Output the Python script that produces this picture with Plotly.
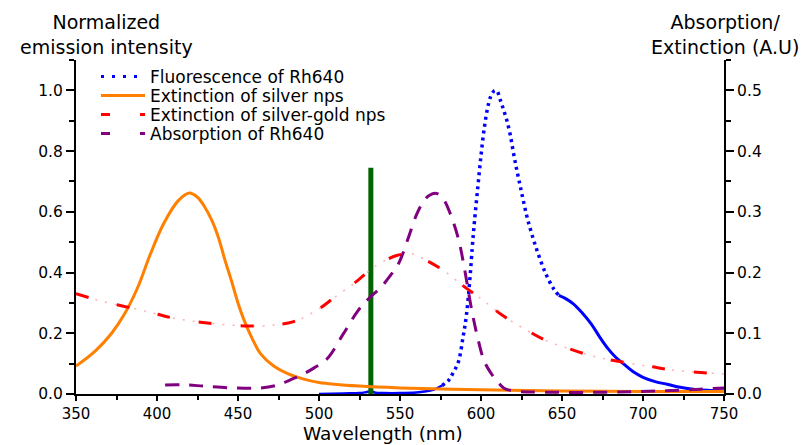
import plotly.graph_objects as go

# Fluorescence of Rh640 (normalized, left axis)
fl_nm = [500, 515, 525, 529, 532, 535, 540, 550, 560, 565, 571, 576,
         580, 583, 586, 589, 591, 593, 595, 596, 598, 600, 602, 604, 606,
         608, 609, 610, 612, 614, 616, 618, 620, 622, 624, 626, 629, 634, 640, 645, 648,
         652, 657, 662, 668, 673, 678, 683, 688, 694, 700, 708, 715, 723, 731, 740, 750]
fl_val = [0.0, 0.002, 0.003, 0.006, 0.009, 0.004, 0.003, 0.003, 0.005, 0.008, 0.015, 0.028,
          0.045, 0.072, 0.105, 0.19, 0.26, 0.37, 0.51, 0.57, 0.68, 0.785, 0.875, 0.94, 0.98,
          0.998, 1.0, 0.997, 0.967, 0.935, 0.9, 0.855, 0.795, 0.74, 0.69, 0.64, 0.571, 0.482, 0.396,
          0.345, 0.325, 0.315, 0.297, 0.27, 0.231, 0.19, 0.152, 0.122, 0.099, 0.073, 0.055, 0.04,
          0.032, 0.022, 0.016, 0.012, 0.01]

# Extinction of silver nps (right axis)
ag_nm = [350, 362, 372, 380, 388, 396, 404, 413, 420, 425, 429, 434, 438, 442, 446, 450,
         454, 459, 464, 472, 481, 490, 500, 525, 550, 600, 650, 700, 750]
ag_val = [0.046, 0.071, 0.1, 0.132, 0.175, 0.231, 0.28, 0.318, 0.331, 0.324, 0.31, 0.285,
          0.257, 0.22, 0.186, 0.15, 0.12, 0.09, 0.066, 0.046, 0.033, 0.025, 0.019, 0.013,
          0.01, 0.007, 0.005, 0.004, 0.004]

# Extinction of silver-gold nps (right axis)
agau_nm = [350, 367, 384, 398, 410, 431, 456, 470, 481, 489, 501, 509, 522, 535, 548, 557,
           567, 577, 589, 600, 613, 627, 641, 655, 668, 680, 693, 705, 717, 733, 750]
agau_val = [0.165, 0.152, 0.142, 0.133, 0.125, 0.117, 0.112, 0.113, 0.117, 0.124, 0.142, 0.158,
            0.183, 0.211, 0.228, 0.231, 0.219, 0.203, 0.178, 0.157, 0.13, 0.107, 0.087, 0.074,
            0.063, 0.056, 0.05, 0.045, 0.04, 0.036, 0.033]

# Absorption of Rh640 (right axis)
abs_nm = [405, 417, 429, 447, 464, 475, 482, 489, 497, 505, 515, 524, 531, 538, 544, 549,
          555, 560, 564, 568, 573, 577, 581, 586, 589.5, 594, 598, 602, 606, 610, 614, 620,
          640, 680, 710, 735, 750]
abs_val = [0.015, 0.015, 0.013, 0.01, 0.01, 0.015, 0.023, 0.031, 0.043, 0.058, 0.099, 0.137,
           0.158, 0.175, 0.195, 0.214, 0.256, 0.294, 0.315, 0.327, 0.33, 0.32, 0.297, 0.256,
           0.211, 0.142, 0.092, 0.054, 0.035, 0.021, 0.01, 0.005, 0.003, 0.003, 0.005, 0.008, 0.01]

# Excitation laser line (532 nm)
laser_nm = [532, 532]
laser_val = [0.0, 0.745]

x_ticks = [350, 400, 450, 500, 550, 600, 650, 700, 750]

BLUE = "#0000ff"
ORANGE = "#ff8000"
RED = "#ff0000"
PURPLE = "#800080"
GREEN = "#006400"
FONT = "DejaVu Sans, Verdana, sans-serif"

# The page body has an 8px margin, so the figure is 800x437 and all
# positions below are given in screen pixels and converted.
OFF = 8
FIG_W, FIG_H = 808 - OFF, 445 - OFF
PLOT_LEFT, PLOT_RIGHT = 76 - OFF, 724 - OFF
PLOT_TOP, PLOT_BOTTOM = 60 - OFF, 394 - OFF
PLOT_W = PLOT_RIGHT - PLOT_LEFT
PLOT_H = PLOT_BOTTOM - PLOT_TOP


def px_x(screen_x):
    return (screen_x - OFF - PLOT_LEFT) / PLOT_W


def px_y(screen_y):
    return (PLOT_BOTTOM - (screen_y - OFF)) / PLOT_H


fig = go.Figure()

fig.add_trace(go.Scatter(x=ag_nm, y=ag_val, yaxis="y2", mode="lines", line_shape="spline",
                         showlegend=False, line=dict(color=ORANGE, width=3)))
fig.add_trace(go.Scatter(x=agau_nm, y=agau_val, yaxis="y2", mode="lines", line_shape="spline",
                         showlegend=False, hoverinfo="skip",
                         line=dict(color="#ffb0b0", width=1.5, dash="2px,8px")))
fig.add_trace(go.Scatter(x=agau_nm, y=agau_val, yaxis="y2", mode="lines", line_shape="spline",
                         showlegend=False, line=dict(color=RED, width=3, dash="13px,29px")))
fig.add_trace(go.Scatter(x=abs_nm, y=abs_val, yaxis="y2", mode="lines", line_shape="spline",
                         showlegend=False, line=dict(color=PURPLE, width=3, dash="14px,10px")))

i1 = fl_nm.index(576)
i2 = fl_nm.index(648)
fig.add_trace(go.Scatter(x=fl_nm[:i1 + 1], y=fl_val[:i1 + 1], mode="lines", line_shape="spline",
                         showlegend=False, line=dict(color=BLUE, width=2.5)))
fig.add_trace(go.Scatter(x=fl_nm[i1:i2 + 1], y=fl_val[i1:i2 + 1], mode="lines", line_shape="spline",
                         showlegend=False, line=dict(color=BLUE, width=3.5, dash="3px,4px")))
fig.add_trace(go.Scatter(x=fl_nm[i2:], y=fl_val[i2:], mode="lines", line_shape="spline",
                         showlegend=False, line=dict(color=BLUE, width=3)))

fig.add_trace(go.Scatter(x=laser_nm, y=laser_val, mode="lines", showlegend=False,
                         line=dict(color=GREEN, width=5)))

# legend entries, one legend per row for exact spacing
legend_rows = [
    ("Fluorescence of Rh640", dict(color=BLUE, width=3, dash="3px,8px"), "legend"),
    ("Extinction of silver nps", dict(color=ORANGE, width=3), "legend2"),
    ("Extinction of silver-gold nps", dict(color=RED, width=3, dash="9px,30px"), "legend3"),
    ("Absorption of Rh640", dict(color=PURPLE, width=3, dash="9px,30px"), "legend4"),
]
for name, ln, lg in legend_rows:
    fig.add_trace(go.Scatter(x=[None], y=[None], mode="lines", name=name, line=ln, legend=lg))

row_centers_screen = [77, 96, 115, 134]
legends = {}
for (name, ln, lg), yc in zip(legend_rows, row_centers_screen):
    legends[lg] = dict(x=px_x(96), y=px_y(yc),
                       xanchor="left", yanchor="middle", xref="paper", yref="paper",
                       bgcolor="rgba(0,0,0,0)", font=dict(size=17, family=FONT, color="black"),
                       itemwidth=44)

axis_common = dict(showline=True, linecolor="black", linewidth=2, showgrid=False,
                   zeroline=False, ticks="outside", tickwidth=1.5, tickcolor="black",
                   automargin=False,
                   tickfont=dict(size=15.5, family=FONT, color="black"))

fig.update_layout(
    template="none",
    width=FIG_W, height=FIG_H,
    margin=dict(l=PLOT_LEFT, r=FIG_W - PLOT_RIGHT, t=PLOT_TOP, b=FIG_H - PLOT_BOTTOM,
                autoexpand=False),
    paper_bgcolor="white", plot_bgcolor="white",
    font=dict(family=FONT, size=15, color="black"),
    showlegend=True,
    **legends,
    xaxis=dict(range=[350, 750], tickvals=x_ticks, ticklen=5,
               minor=dict(dtick=25, tick0=350, ticks="outside", ticklen=4, tickwidth=1.5,
                          tickcolor="black", showgrid=False),
               **{**axis_common, "tickfont": dict(size=15, family=FONT, color="black")}),
    yaxis=dict(range=[0, 1.1], dtick=0.2, tick0=0, tickformat=".1f", ticklen=8,
               minor=dict(dtick=0.1, ticks="outside", ticklen=5, tickwidth=1.5,
                          tickcolor="black", showgrid=False),
               **axis_common),
    yaxis2=dict(range=[0, 0.55], dtick=0.1, tick0=0, tickformat=".1f", overlaying="y",
                side="right", ticklen=8,
                minor=dict(dtick=0.05, ticks="outside", ticklen=5, tickwidth=1.5,
                           tickcolor="black", showgrid=False),
                **axis_common),
    annotations=[
        dict(text="Normalized<br>emission intensity", xref="paper", yref="paper",
             x=px_x(106), y=px_y(8.5), xanchor="center", yanchor="top",
             showarrow=False, font=dict(size=19, family=FONT)),
        dict(text="Absorption/<br>Extinction (A.U)", xref="paper", yref="paper",
             x=px_x(725), y=px_y(8.5), xanchor="center", yanchor="top",
             showarrow=False, font=dict(size=19, family=FONT)),
        dict(text="Wavelength (nm)", xref="paper", yref="paper",
             x=px_x(383), y=px_y(445), xanchor="center", yanchor="bottom",
             borderpad=0, showarrow=False, font=dict(size=18.5, family=FONT)),
    ],
)

fig.write_html("out.html")
